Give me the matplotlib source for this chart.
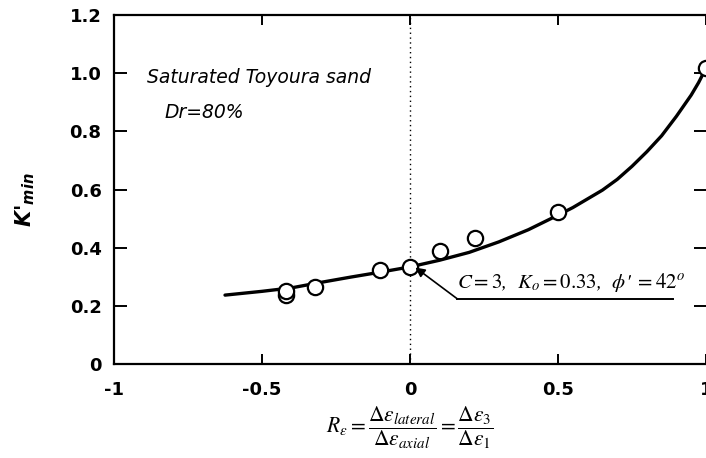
import matplotlib
matplotlib.use('Agg')
import matplotlib.pyplot as plt

plt.rcParams['font.family'] = ['DejaVu Sans']
plt.rcParams['axes.unicode_minus'] = False

# measured K'min values
re_meas = [-0.42, -0.42, -0.32, -0.10, 0.00, 0.10, 0.22, 0.50, 1.00]
k_meas = [0.238, 0.252, 0.266, 0.324, 0.333, 0.390, 0.434, 0.522, 1.018]

# model curve (C=3, Ko=0.33, phi'=42)
re_model = [-0.625, -0.5, -0.4, -0.3, -0.2, -0.1, 0.0, 0.1, 0.2, 0.3,
            0.4, 0.45, 0.5, 0.55, 0.6, 0.65, 0.7, 0.75, 0.8, 0.85,
            0.9, 0.95, 0.975, 1.0]
k_model = [0.237, 0.250, 0.262, 0.281, 0.299, 0.316, 0.334, 0.357, 0.384, 0.420,
           0.462, 0.487, 0.512, 0.538, 0.568, 0.598, 0.635, 0.680, 0.730, 0.785,
           0.852, 0.925, 0.968, 1.018]

xticks = [-1, -0.5, 0, 0.5, 1]
xtick_labels = ['-1', '-0.5', '0', '0.5', '1']
yticks = [0, 0.2, 0.4, 0.6, 0.8, 1.0, 1.2]
ytick_labels = ['0', '0.2', '0.4', '0.6', '0.8', '1.0', '1.2']

fig = plt.figure(figsize=(7.06, 4.58), dpi=100)
ax = fig.add_axes([0.1615, 0.2052, 0.8385, 0.7618])

ax.axvline(0, color='black', lw=1.0, ls=(0, (1, 2.5)), zorder=1)
ax.plot(re_model, k_model, color='black', lw=2.4, solid_capstyle='round',
        solid_joinstyle='round', zorder=2)
ax.plot(re_meas, k_meas, 'o', ms=11, mfc='white', mec='black', mew=1.6, zorder=3,
        clip_on=False)

ax.set_xlim(-1, 1)
ax.set_ylim(0, 1.2)
ax.set_xticks(xticks)
ax.set_xticklabels(xtick_labels)
ax.set_yticks(yticks)
ax.set_yticklabels(ytick_labels)
ax.tick_params(axis='both', direction='in', labelsize=13, width=1.4)
ax.tick_params(axis='y', length=9, pad=9, right=True)
ax.tick_params(axis='x', length=7, pad=12, top=True)
for lab in ax.get_xticklabels() + ax.get_yticklabels():
    lab.set_fontweight('bold')
for side in ['left', 'bottom', 'top']:
    ax.spines[side].set_linewidth(1.6)
ax.spines['right'].set_visible(False)

ax.text(-0.89, 0.966, 'Saturated Toyoura sand', fontsize=13.5, style='italic',
        va='baseline')
ax.text(-0.83, 0.846, 'Dr=80%', fontsize=13.5, style='italic', va='baseline')

# leader line to the model label
ax.annotate('', xy=(0.018, 0.332), xytext=(0.16, 0.224),
            arrowprops=dict(arrowstyle='-|>', color='black', lw=1.2,
                            mutation_scale=14, shrinkA=0, shrinkB=0))
ax.plot([0.16, 0.89], [0.224, 0.224], color='black', lw=1.4)
ax.text(0.16, 0.262, r"$C = 3$,  $K_o = 0.33$,  $\phi$' $= 42^o$", fontsize=15,
        family='STIXGeneral', style='italic', math_fontfamily='stix',
        va='baseline')

ax.set_ylabel(r"K'$_{\mathbfit{min}}$", fontsize=15, fontweight='bold',
              style='italic', math_fontfamily='dejavusans')
ax.yaxis.set_label_coords(-0.13, 0.47)
ax.set_xlabel(r"$R_\varepsilon = \dfrac{\Delta\varepsilon_{lateral}}{\Delta\varepsilon_{axial}}"
              r" = \dfrac{\Delta\varepsilon_3}{\Delta\varepsilon_1}$",
              fontsize=15.5, math_fontfamily='stix', labelpad=4)

fig.savefig('out.png', dpi=100)
